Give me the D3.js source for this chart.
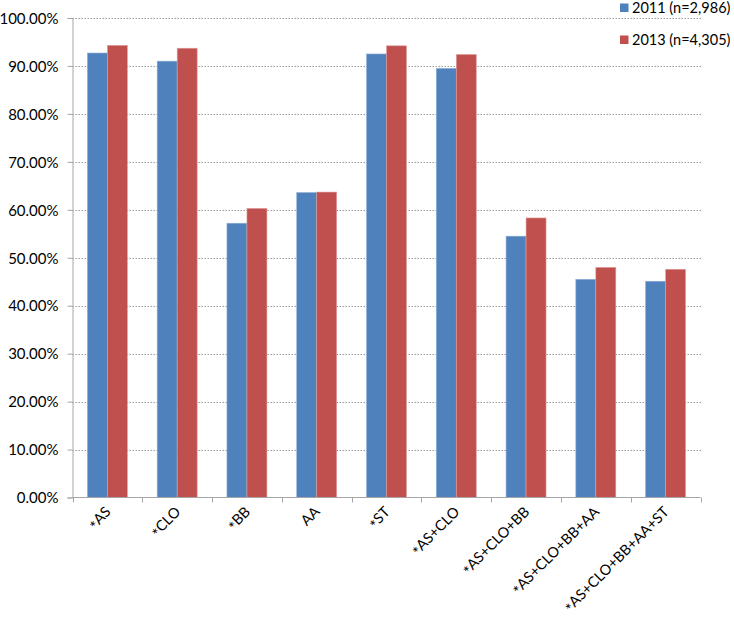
<!DOCTYPE html>
<html><head><meta charset="utf-8">
<script src="https://cdn.jsdelivr.net/npm/d3@7"></script>
<style>body{margin:0;background:#fff}svg{display:block}text{font-family:Lato,"Open Sans",sans-serif;fill:#000}</style>
</head><body><svg id="c" width="734" height="617"></svg>
<script>
const categories = ["*AS","*CLO","*BB","AA","*ST","*AS+CLO","*AS+CLO+BB","*AS+CLO+BB+AA","*AS+CLO+BB+AA+ST"];
const series2011 = [92.7, 91.0, 57.2, 63.6, 92.5, 89.5, 54.5, 45.5, 45.1];
const series2013 = [94.3, 93.7, 60.3, 63.7, 94.2, 92.4, 58.3, 48.0, 47.6];
const seriesNames = ["2011 (n=2,986)", "2013 (n=4,305)"];
const seriesColors = ["#4F81BD", "#C0504D"];
const yTicks = [0,10,20,30,40,50,60,70,80,90,100];

const svg = d3.select("#c");
const L = 72.5, R = 700.5, T = 18, B = 497.5;
const x = d3.scaleBand().domain(categories).range([L, R]).paddingInner(0).paddingOuter(0);
const y = d3.scaleLinear().domain([0, 100]).range([B, T]);
const x1 = d3.scaleBand().domain([0,1]).range([0, x.bandwidth()]).paddingInner(0).paddingOuter(0.745);

// gridlines
svg.append("g").selectAll("line").data(yTicks.filter(d => d > 0)).join("line")
  .attr("x1", L).attr("x2", R + 2).attr("y1", d => Math.round(y(d)) + 0.5).attr("y2", d => Math.round(y(d)) + 0.5)
  .attr("stroke", "#9a9a9a").attr("stroke-width", 1).attr("stroke-dasharray", "1.5,1.5");

// bars
const data = categories.map((c, i) => ({c, v: [series2011[i], series2013[i]]}));
const g = svg.append("g");
g.selectAll("g").data(data).join("g")
  .attr("transform", d => `translate(${x(d.c)},0)`)
  .selectAll("rect").data(d => d.v.map((v, k) => ({v, k}))).join("rect")
  .attr("x", d => x1(d.k)).attr("width", x1.bandwidth())
  .attr("y", d => y(d.v)).attr("height", d => B - y(d.v))
  .attr("fill", d => seriesColors[d.k])
  .attr("stroke", d => d.k === 0 ? "#8fb0d8" : "#e0a0a0").attr("stroke-width", 0.6);

// y axis
const yAxis = d3.axisLeft(y).tickValues(yTicks).tickSize(5).tickFormat(d => d.toFixed(2) + "%");
const ya = svg.append("g").attr("transform", `translate(${L},0)`).call(yAxis);
ya.select(".domain").attr("stroke", "#a6a6a6");
ya.selectAll(".tick line").attr("stroke", "#a6a6a6");
ya.selectAll(".tick text").attr("font-size", 15).attr("x", -14).attr("dy", "0.35em")
  .style("font-family", 'Lato,"Open Sans",sans-serif').attr("fill", "#000");

// x axis
const xa = svg.append("g").attr("transform", `translate(0,${B})`)
  .call(d3.axisBottom(x).tickSize(0).tickFormat(""));
xa.select(".domain").attr("stroke", "#a6a6a6").attr("d", `M${L},0H${R}`);
xa.selectAll(".tick line").remove();
svg.append("g").selectAll("line").data(categories.concat([null])).join("line")
  .attr("x1", (d, i) => Math.round(L + i * x.bandwidth()) + 0.5)
  .attr("x2", (d, i) => Math.round(L + i * x.bandwidth()) + 0.5)
  .attr("y1", B).attr("y2", B + 5).attr("stroke", "#a6a6a6");
const lbl = svg.append("g").selectAll("text").data(categories).join("text")
  .attr("transform", d => `translate(${x(d) + x.bandwidth()/2 + 4},${B + 15}) rotate(-45)`)
  .attr("text-anchor", "end").attr("font-size", 14.5);
lbl.each(function(d) {
  const t = d3.select(this);
  if (d.startsWith("*")) {
    t.append("tspan").attr("dy", "0.25em").attr("font-size", 16).text("*");
    t.append("tspan").attr("dy", "-0.25em").text(d.slice(1));
  } else t.text(d);
});

// legend
const lg = svg.append("g");
seriesNames.forEach((n, i) => {
  lg.append("rect").attr("x", 620).attr("y", 3.5 + i * 32).attr("width", 8.5).attr("height", 8.5).attr("fill", seriesColors[i]);
  lg.append("text").attr("x", 632).attr("y", 8 + i * 32).attr("dy", "0.35em").attr("font-size", 14.5).text(n);
});
</script></body></html>
